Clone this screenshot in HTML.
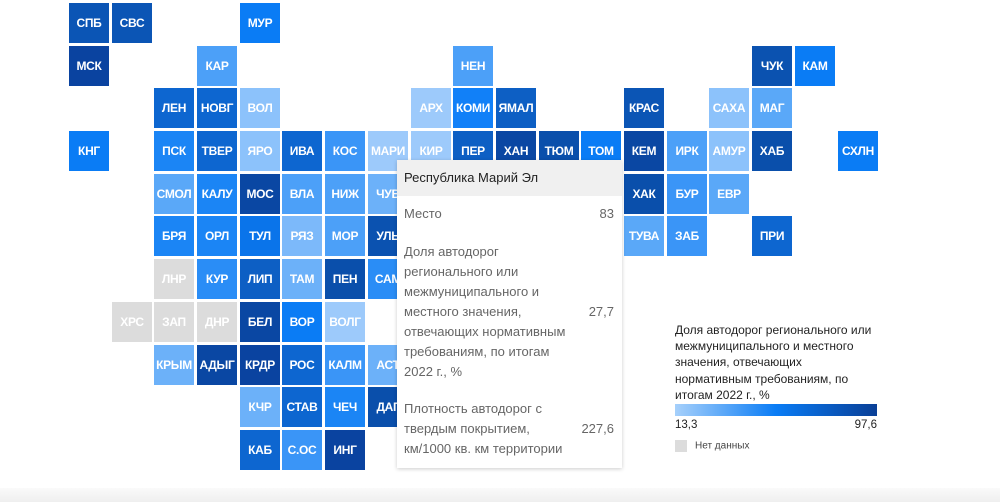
<!DOCTYPE html>
<html><head><meta charset="utf-8"><style>
body{margin:0;width:1000px;height:502px;background:#fff;position:relative;overflow:hidden;font-family:"Liberation Sans",sans-serif}
.c{position:absolute;width:40px;height:40px;color:#fff;font-weight:bold;font-size:12px;display:flex;align-items:center;justify-content:center;letter-spacing:-0.3px;overflow:hidden;white-space:nowrap}
.g{background:#dcdcdc}
#tt{position:absolute;left:397px;top:160px;width:225px;height:308px;background:#fff;box-shadow:0 1px 4px rgba(0,0,0,0.2);color:#666;font-size:13px}
#tt .h{background:#f0f0f0;height:36px;line-height:36px;padding-left:7px;color:#222}
.r{position:absolute;left:7px;right:8px;line-height:20px}
.v{position:absolute;right:0}
#lg{position:absolute;left:675px;top:322px;width:230px;font-size:12px;line-height:16.2px;color:#222;white-space:nowrap}
</style></head><body>
<div class="c" style="left:69px;top:3px;background:#0b55b5">СПБ</div>
<div class="c" style="left:112px;top:3px;background:#0b55b5">СВС</div>
<div class="c" style="left:240px;top:3px;background:#0a7cf5">МУР</div>
<div class="c" style="left:69px;top:46px;background:#0a43a0">МСК</div>
<div class="c" style="left:197px;top:46px;background:#4ca0f8">КАР</div>
<div class="c" style="left:453px;top:46px;background:#4ca0f8">НЕН</div>
<div class="c" style="left:752px;top:46px;background:#0b52b0">ЧУК</div>
<div class="c" style="left:795px;top:46px;background:#0a7cf5">КАМ</div>
<div class="c" style="left:154px;top:88px;background:#0d66d0">ЛЕН</div>
<div class="c" style="left:197px;top:88px;background:#0d66d0">НОВГ</div>
<div class="c" style="left:240px;top:88px;background:#8cc2fb">ВОЛ</div>
<div class="c" style="left:411px;top:88px;background:#9dcafb">АРХ</div>
<div class="c" style="left:453px;top:88px;background:#1180f8">КОМИ</div>
<div class="c" style="left:496px;top:88px;background:#0d5fc4">ЯМАЛ</div>
<div class="c" style="left:624px;top:88px;background:#0b55b5">КРАС</div>
<div class="c" style="left:709px;top:88px;background:#8cc2fb">САХА</div>
<div class="c" style="left:752px;top:88px;background:#5aa8f8">МАГ</div>
<div class="c" style="left:69px;top:131px;background:#0a7cf5">КНГ</div>
<div class="c" style="left:154px;top:131px;background:#1b85f5">ПСК</div>
<div class="c" style="left:197px;top:131px;background:#0d66d0">ТВЕР</div>
<div class="c" style="left:240px;top:131px;background:#8cc2fb">ЯРО</div>
<div class="c" style="left:282px;top:131px;background:#0d66d0">ИВА</div>
<div class="c" style="left:325px;top:131px;background:#3a95f7">КОС</div>
<div class="c" style="left:368px;top:131px;background:#9dcafb">МАРИ</div>
<div class="c" style="left:411px;top:131px;background:#9dcafb">КИР</div>
<div class="c" style="left:453px;top:131px;background:#0d5fc4">ПЕР</div>
<div class="c" style="left:496px;top:131px;background:#0a47a3">ХАН</div>
<div class="c" style="left:539px;top:131px;background:#0a4fab">ТЮМ</div>
<div class="c" style="left:581px;top:131px;background:#0a7cf5">ТОМ</div>
<div class="c" style="left:624px;top:131px;background:#0a47a3">КЕМ</div>
<div class="c" style="left:667px;top:131px;background:#4ca0f8">ИРК</div>
<div class="c" style="left:709px;top:131px;background:#8cc2fb">АМУР</div>
<div class="c" style="left:752px;top:131px;background:#0a4fab">ХАБ</div>
<div class="c" style="left:838px;top:131px;background:#0a7cf5">СХЛН</div>
<div class="c" style="left:154px;top:174px;background:#5aa8f8">СМОЛ</div>
<div class="c" style="left:197px;top:174px;background:#1b85f5">КАЛУ</div>
<div class="c" style="left:240px;top:174px;background:#0a47a3">МОС</div>
<div class="c" style="left:282px;top:174px;background:#4ca0f8">ВЛА</div>
<div class="c" style="left:325px;top:174px;background:#4ca0f8">НИЖ</div>
<div class="c" style="left:368px;top:174px;background:#6cb1f9">ЧУВ</div>
<div class="c" style="left:624px;top:174px;background:#0a4fab">ХАК</div>
<div class="c" style="left:667px;top:174px;background:#3a95f7">БУР</div>
<div class="c" style="left:709px;top:174px;background:#5aa8f8">ЕВР</div>
<div class="c" style="left:154px;top:216px;background:#1b85f5">БРЯ</div>
<div class="c" style="left:197px;top:216px;background:#1b85f5">ОРЛ</div>
<div class="c" style="left:240px;top:216px;background:#0a74ea">ТУЛ</div>
<div class="c" style="left:282px;top:216px;background:#7cb9fa">РЯЗ</div>
<div class="c" style="left:325px;top:216px;background:#4ca0f8">МОР</div>
<div class="c" style="left:368px;top:216px;background:#0b52b0">УЛЬ</div>
<div class="c" style="left:624px;top:216px;background:#5aa8f8">ТУВА</div>
<div class="c" style="left:667px;top:216px;background:#3a95f7">ЗАБ</div>
<div class="c" style="left:752px;top:216px;background:#0d66d0">ПРИ</div>
<div class="c g" style="left:154px;top:259px">ЛНР</div>
<div class="c" style="left:197px;top:259px;background:#2a8df6">КУР</div>
<div class="c" style="left:240px;top:259px;background:#0d5fc4">ЛИП</div>
<div class="c" style="left:282px;top:259px;background:#6cb1f9">ТАМ</div>
<div class="c" style="left:325px;top:259px;background:#0a4fab">ПЕН</div>
<div class="c" style="left:368px;top:259px;background:#2a8df6">САМ</div>
<div class="c g" style="left:112px;top:302px">ХРС</div>
<div class="c g" style="left:154px;top:302px">ЗАП</div>
<div class="c g" style="left:197px;top:302px">ДНР</div>
<div class="c" style="left:240px;top:302px;background:#0a47a3">БЕЛ</div>
<div class="c" style="left:282px;top:302px;background:#0a7cf5">ВОР</div>
<div class="c" style="left:325px;top:302px;background:#9dcafb">ВОЛГ</div>
<div class="c" style="left:154px;top:345px;background:#6cb1f9">КРЫМ</div>
<div class="c" style="left:197px;top:345px;background:#0a47a3">АДЫГ</div>
<div class="c" style="left:240px;top:345px;background:#0a43a0">КРДР</div>
<div class="c" style="left:282px;top:345px;background:#0d66d0">РОС</div>
<div class="c" style="left:325px;top:345px;background:#3a95f7">КАЛМ</div>
<div class="c" style="left:368px;top:345px;background:#6cb1f9">АСТ</div>
<div class="c" style="left:240px;top:387px;background:#6cb1f9">КЧР</div>
<div class="c" style="left:282px;top:387px;background:#0d66d0">СТАВ</div>
<div class="c" style="left:325px;top:387px;background:#1b85f5">ЧЕЧ</div>
<div class="c" style="left:368px;top:387px;background:#0a4fab">ДАГ</div>
<div class="c" style="left:240px;top:430px;background:#0d66d0">КАБ</div>
<div class="c" style="left:282px;top:430px;background:#3a95f7">С.ОС</div>
<div class="c" style="left:325px;top:430px;background:#0a43a0">ИНГ</div>

<div id="tt">
<div class="h">Республика Марий Эл</div>
<div class="r" style="top:44px">Место<span class="v">83</span></div>
<div class="r" style="top:82px">Доля автодорог<br>регионального или<br>межмуниципального и<br>местного значения,<br>отвечающих нормативным<br>требованиям, по итогам<br>2022 г., %<span class="v" style="top:60px">27,7</span></div>
<div class="r" style="top:239px">Плотность автодорог с<br>твердым покрытием,<br>км/1000 кв. км территории<span class="v" style="top:20px">227,6</span></div>
</div>

<div id="lg">Доля автодорог регионального или<br>межмуниципального и местного<br>значения, отвечающих<br>нормативным требованиям, по<br>итогам 2022 г., %
<div style="margin-top:1px;height:12px;width:202px;background:linear-gradient(to right,#a6d0fb,#0a7cf5 50%,#0a3f96)"></div>
<div style="position:relative;width:202px;height:18px;font-size:11.5px;line-height:18px">13,3<span style="position:absolute;right:0">97,6</span></div>
<div style="margin-top:6px;font-size:10px;color:#444;line-height:12px"><span style="display:inline-block;width:12px;height:12px;background:#dcdcdc;vertical-align:middle;margin-right:8px"></span>Нет данных</div>
</div>
<div style="position:absolute;left:0;top:488px;width:1000px;height:14px;background:linear-gradient(#fafafa,#efefef)"></div>
</body></html>
